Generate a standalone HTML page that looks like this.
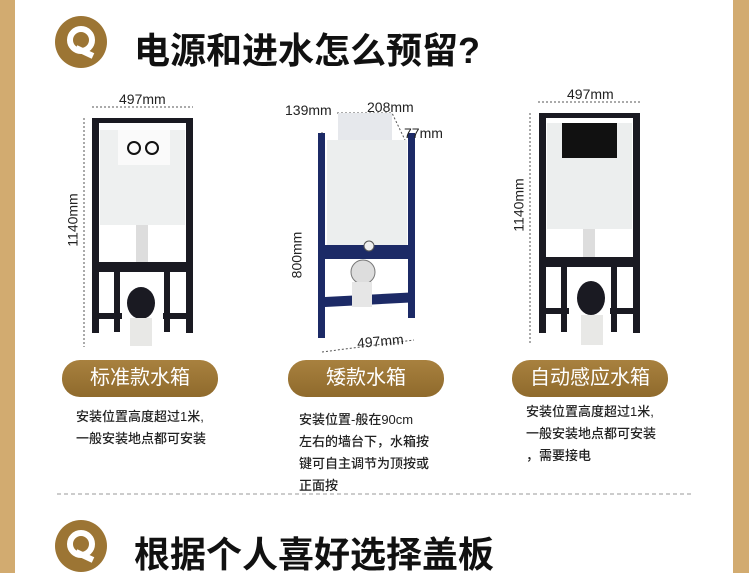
<!DOCTYPE html>
<html><head><meta charset="utf-8"><style>
body{margin:0;width:749px;height:573px;overflow:hidden;background:#fff;position:relative;font-family:"Liberation Sans","Noto Sans CJK SC",sans-serif}
.a{position:absolute}
.t{font-weight:bold;font-size:36px;color:#111;white-space:nowrap;letter-spacing:0}
.pill{position:absolute;height:37px;width:156px;border-radius:18px;background:linear-gradient(#a8813f,#8f6a2c);color:#fff;font-size:20px;text-align:center;line-height:37px}
.d{position:absolute;font-size:13px;color:#222;line-height:22px;white-space:nowrap;font-weight:500}
.m{position:absolute;font-size:14px;color:#222;white-space:nowrap;line-height:14px}
</style></head><body>
<div class="a" style="left:0;top:0;width:15px;height:573px;background:#d2ab70"></div>
<div class="a" style="left:733px;top:0;width:16px;height:573px;background:#d2ab70"></div>

<svg class="a" style="left:0;top:0" width="749" height="573">
<circle cx="81" cy="42" r="26" fill="#9c7534"/>
<circle cx="81" cy="40" r="11" fill="none" stroke="#fff" stroke-width="6"/>
<path d="M76 48 L93 56" stroke="#fff" stroke-width="6"/>
<circle cx="81" cy="546" r="26" fill="#9c7534"/>
<circle cx="81" cy="544" r="11" fill="none" stroke="#fff" stroke-width="6"/>
<path d="M76 552 L93 560" stroke="#fff" stroke-width="6"/>
<g stroke="#555" stroke-dasharray="2,2" fill="none" stroke-width="1">
<path d="M92 107H193M84 118V347"/>
<path d="M337 113H392L405 140M322 132V340M322 352L414 340"/>
<path d="M538 102H640M530 113V345"/>
<path d="M57 494H693" stroke="#999" stroke-dasharray="4,3"/>
</g>
<rect x="100" y="130" width="85" height="95" fill="#eef0f0"/>
<rect x="118" y="130" width="52" height="35" fill="#fafafa"/>
<circle cx="134" cy="148" r="6" fill="none" stroke="#111" stroke-width="2"/>
<circle cx="152" cy="148" r="6" fill="none" stroke="#111" stroke-width="2"/>
<rect x="136" y="225" width="12" height="38" fill="#ddd"/>
<g fill="#1a1a22">
<rect x="92" y="118" width="7" height="215"/><rect x="186" y="118" width="7" height="215"/>
<rect x="92" y="118" width="101" height="5"/><rect x="92" y="262" width="101" height="10"/>
<rect x="92" y="313" width="30" height="6"/><rect x="163" y="313" width="30" height="6"/>
<rect x="114" y="272" width="6" height="60"/><rect x="164" y="272" width="6" height="60"/>
<ellipse cx="141" cy="303" rx="14" ry="16"/>
</g>
<rect x="130" y="318" width="22" height="28" fill="#e8e8e6"/>
<rect x="338" y="113" width="54" height="28" fill="#e6e8ec"/>
<rect x="327" y="140" width="80" height="105" fill="#eceeee"/>
<g fill="#1c2a66">
<rect x="318" y="133" width="7" height="205"/><rect x="408" y="133" width="7" height="185"/>
<rect x="318" y="245" width="97" height="14"/><rect x="318" y="292" width="97" height="10" transform="skewY(-3) translate(0,22)"/>
</g>
<circle cx="369" cy="246" r="5" fill="#eee" stroke="#555"/>
<circle cx="363" cy="272" r="12" fill="#ddd" stroke="#777"/>
<rect x="352" y="282" width="20" height="25" fill="#e6e6e6"/>
<rect x="547" y="123" width="85" height="106" fill="#eceeee"/>
<rect x="562" y="123" width="55" height="35" fill="#111"/>
<rect x="583" y="229" width="12" height="35" fill="#ddd"/>
<g fill="#1a1a22">
<rect x="539" y="113" width="7" height="220"/><rect x="633" y="113" width="7" height="220"/>
<rect x="539" y="113" width="101" height="5"/><rect x="539" y="257" width="101" height="10"/>
<rect x="539" y="308" width="30" height="6"/><rect x="610" y="308" width="30" height="6"/>
<rect x="561" y="267" width="6" height="65"/><rect x="611" y="267" width="6" height="65"/>
<ellipse cx="591" cy="298" rx="14" ry="17"/>
</g>
<rect x="581" y="315" width="22" height="30" fill="#e8e8e6"/>
</svg>

<div class="a t" style="left:134px;top:22px">电源和进水怎么预留?</div>
<div class="a t" style="left:134px;top:526px">根据个人喜好选择盖板</div>

<div class="m" style="left:119px;top:92px">497mm</div>
<div class="m" style="left:46px;top:213px;transform:rotate(-90deg)">1140mm</div>
<div class="m" style="left:285px;top:103px">139mm</div>
<div class="m" style="left:367px;top:100px">208mm</div>
<div class="m" style="left:404px;top:126px">77mm</div>
<div class="m" style="left:273px;top:248px;transform:rotate(-90deg)">800mm</div>
<div class="m" style="left:357px;top:334px;transform:rotate(-5deg)">497mm</div>
<div class="m" style="left:567px;top:87px">497mm</div>
<div class="m" style="left:492px;top:198px;transform:rotate(-90deg)">1140mm</div>

<div class="pill" style="left:62px;top:360px">标准款水箱</div>
<div class="pill" style="left:288px;top:360px">矮款水箱</div>
<div class="pill" style="left:512px;top:360px">自动感应水箱</div>

<div class="d" style="left:76px;top:406px">安装位置高度超过1米,<br>一般安装地点都可安装</div>
<div class="d" style="left:299px;top:409px">安装位置-般在90cm<br>左右的墙台下，水箱按<br>键可自主调节为顶按或<br>正面按</div>
<div class="d" style="left:526px;top:401px">安装位置高度超过1米,<br>一般安装地点都可安装<br>，需要接电</div>
</body></html>
